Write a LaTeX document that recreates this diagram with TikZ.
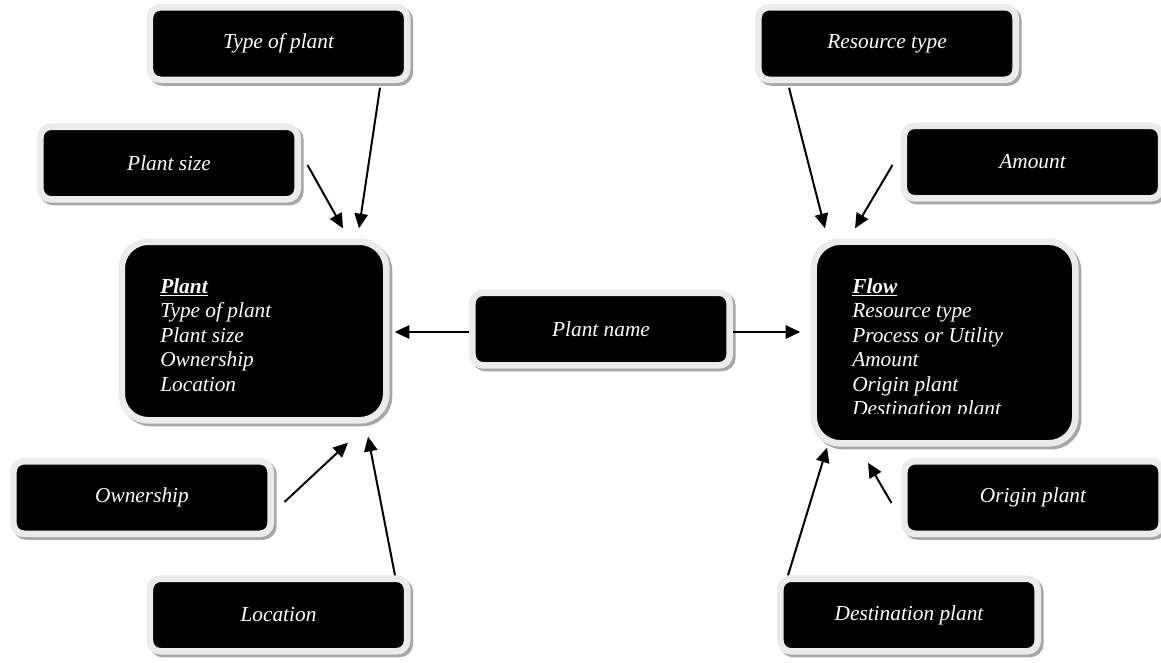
\documentclass[tikz,border=0pt]{standalone}
\usepackage{fontspec}
\setmainfont{Liberation Serif}
\usepackage{tikz}
\usetikzlibrary{calc,positioning,arrows.meta}

\begin{document}
\begin{tikzpicture}[x=0.75pt,y=-0.75pt]
\tikzset{
	box/.style={draw=black!8, line width=5pt, fill=black, text=white, rounded corners=8pt,
		font=\fontsize{16}{18.4}\selectfont\itshape,
		preaction={draw=black!35, line width=5pt, transform canvas={shift={(2pt,-2pt)}}}},
	smallbox/.style={box, minimum width=193pt, minimum height=54.5pt},
	bigbox/.style={box, rounded corners=20pt},
	arr/.style={-{Triangle[length=11pt,width=10pt]}, line width=1.5pt}
}
\useasboundingbox (0,0) rectangle (1161,662);

% the two tables
\node[bigbox, minimum width=198.5pt, minimum height=134pt] (plant) at (254,331) {};
\node[font=\fontsize{16}{18.4}\selectfont\itshape, text=white, align=left, anchor=west, inner sep=0pt] (planttext) at (160,335)
	{\underline{\textbf{Plant}}\\Type of plant\\Plant size\\Ownership\\Location};
\node[bigbox, minimum width=196.3pt, minimum height=151.3pt] (flow) at (944.5,342.5) {};
\begin{scope}
	\clip (817,245) rectangle (1072,413);
	\node[font=\fontsize{16}{18.4}\selectfont\itshape, text=white, align=left, anchor=west, inner sep=0pt] (flowtext) at (852,349.5)
		{\underline{\textbf{Flow}}\\Resource type\\Process or Utility\\Amount\\Origin plant\\Destination plant};
\end{scope}

% attributes
\foreach \n/\x/\y/\lbl in {typeplant/278.5/43.5/Type of plant, plantsize/169/163/Plant size,
	ownership/142/497.5/Ownership, location/278.5/615/Location, plantname/601/329/Plant name,
	resource/887/43.5/Resource type, amount/1032.5/162/Amount, origin/1033/497.5/Origin plant,
	destination/909/615/Destination plant}
	\node[smallbox] (\n) at (\x,\y) {\lbl};

% arrows into plant
\draw[arr] ($(typeplant.south)+(101.5,4.5)$) -- ($(plant.north)+(105,-10)$);
\draw[arr] ($(plantsize.east)+(6.5,2)$) -- ($(plant.north)+(89,-10)$);
\draw[arr] ($(ownership.east)+(10.5,4.5)$) -- ($(plant.south)+(94,19)$);
\draw[arr] ($(location.north)+(116.5,0)$) -- ($(plant.south)+(114,13)$);
\draw[arr] ($(plantname.west)+(0,3)$) -- ($(plant.east)+(5,1)$);
% arrows into flow
\draw[arr] ($(resource.south)+(-98,4.5)$) -- ($(flow.north)+(-119.5,-10)$);
\draw[arr] ($(amount.west)+(-8,3)$) -- ($(flow.north)+(-89.5,-10)$);
\draw[arr] ($(destination.north)+(-121,0)$) -- ($(flow.south)+(-117.5,1)$);
\draw[arr] ($(origin.west)+(-9.5,5.5)$) -- ($(flow.south)+(-76.5,16)$);
\draw[arr] ($(plantname.east)+(0,3)$) -- ($(flow.west)+(-10,-10.5)$);
\end{tikzpicture}
\end{document}
